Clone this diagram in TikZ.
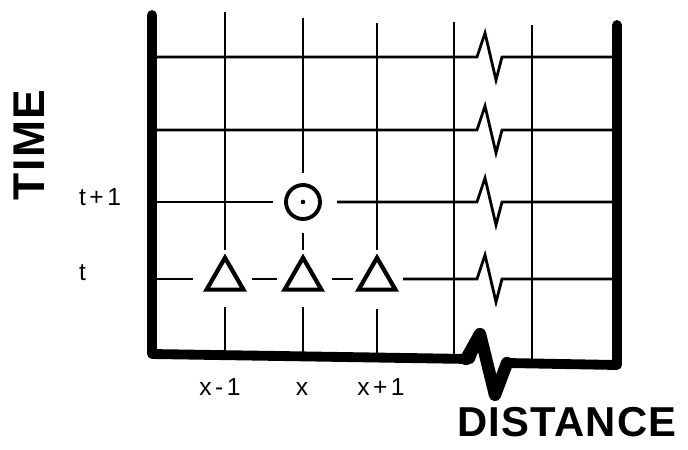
\documentclass[tikz,border=0pt]{standalone}
\usepackage{fontspec}
\setmainfont{Liberation Sans}
\newfontfamily\idxfont[LetterSpace=14]{Liberation Sans}
\newfontfamily\titlefont[LetterSpace=3]{Liberation Sans}
\usetikzlibrary{shapes.geometric}

\begin{document}
\begin{tikzpicture}[x=0.02cm,y=-0.02cm,
  gridline/.style={line width=1.6pt},
  wall/.style={line width=5.6pt,line cap=round,line join=round},
  trimark/.style={draw,regular polygon,regular polygon sides=3,line width=2.4pt,inner sep=0pt,minimum size=0.85cm},
  idx/.style={font=\idxfont\fontsize{14}{14}\selectfont},
  axistitle/.style={font=\titlefont\bfseries\fontsize{#1}{#1}\selectfont,inner sep=0pt}]

\useasboundingbox (0,0) rectangle (688,449);

% ============================
% FRAME (time axis, distance axis)
% ============================
\draw[wall] (152,15) -- (152,354) -- (470,359) -- (480,334) -- (495,395) -- (507,363) -- (617,365) -- (617,25);
\draw[wall,line width=7pt] (466,359) -- (480,334) -- (495,395) -- (507,363);

% ============================
% GRID COLUMNS
% ============================
\draw[gridline] (225,12) -- (225,250) (225,307) -- (225,356);
\draw[gridline] (303,18) -- (303,173) (303,233) -- (303,250) (303,307) -- (303,356);
\draw[gridline] (377,23) -- (377,250) (377,309) -- (377,357);
\draw[gridline] (454,22) -- (454,358);
\draw[gridline] (532,25) -- (532,361);

% ============================
% GRID ROWS (with break marks)
% ============================
\foreach \y/\xs in {57/152,130/152,202/337,279/403}
  \draw[gridline] (\xs,\y) -- (477,\y) -- ++(8,-24) -- ++(11,47) -- ++(6,-23) -- (617,\y);

\draw[gridline] (152,202) -- (273,202);
\draw[gridline] (152,279) -- (193,279) (252,279) -- (277,279) (332,279) -- (353,279);

% ============================
% STENCIL: known values at t, new value at t+1
% ============================
\node[trimark] (triL) at (225,279) {};
\node[trimark] (triC) at (303,279) {};
\node[trimark] (triR) at (377,279) {};

\node[draw,circle,line width=2.2pt,minimum size=0.68cm,inner sep=0pt] (newval) at (303,202) {};
\fill (newval.center) circle (2.3);

% ============================
% LABELS
% ============================
\node[idx,anchor=base] (lblxm) at (220,395) {x-1};
\node[idx,anchor=base] (lblx) at (302,395) {x};
\node[idx,anchor=base] (lblxp) at (381,395) {x+1};

\node[idx,anchor=base west] (lbltn) at (73,205) {t+1};
\node[idx,anchor=base west] (lblt) at (73,280) {t};

\node[axistitle=25.3,rotate=90] (timelbl) at (29,145) {TIME};
\node[axistitle=23.8] (distlbl) at (567,422) {DISTANCE};

\end{tikzpicture}
\end{document}
